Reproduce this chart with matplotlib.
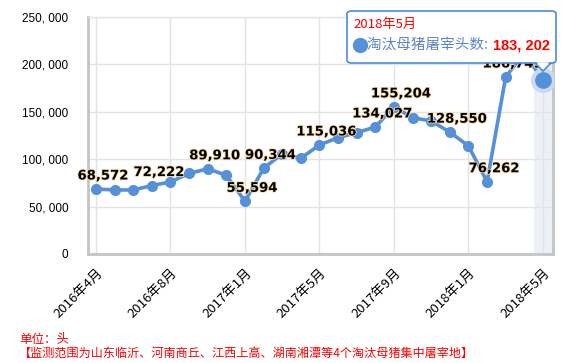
import matplotlib
matplotlib.use("Agg")
import matplotlib.pyplot as plt
import matplotlib.patheffects as pe
from matplotlib.patches import FancyBboxPatch, Polygon
from matplotlib.lines import Line2D

plt.rcParams['font.family'] = ['Noto Sans CJK SC', 'DejaVu Sans']

# ---- data ----
months = ["2016年4月", "2016年5月", "2016年6月", "2016年7月", "2016年8月", "2016年9月",
          "2016年10月", "2016年11月", "2017年1月", "2017年2月", "2017年3月", "2017年4月",
          "2017年5月", "2017年6月", "2017年7月", "2017年8月", "2017年9月", "2017年10月",
          "2017年11月", "2017年12月", "2018年1月", "2018年2月", "2018年3月", "2018年4月",
          "2018年5月"]
values = [68572, 67600, 67500, 72222, 76000, 85000, 89910, 83000, 55594, 90344,
          105800, 101000, 115036, 122700, 128000, 134027, 155204, 143800, 140300,
          128550, 114000, 76262, 186749, 212000, 183202]
labeled_idx = [0, 3, 6, 8, 9, 12, 15, 16, 19, 21, 22]
series_name = "淘汰母猪屠宰头数"
y_ticks = [0, 50000, 100000, 150000, 200000, 250000]
tick_every = 4
hover_idx = 24

W, H = 571, 363
fig = plt.figure(figsize=(W / 100, H / 100), dpi=100)
L, R, T, B = 88, 553, 17, 254
ax = fig.add_axes([L / W, 1 - B / H, (R - L) / W, (B - T) / H])

line_color = '#5590d8'
x = list(range(len(values)))

# highlight band for hovered category
ax.axvspan(hover_idx - 0.47, hover_idx + 0.6, color='#eef0f8', zorder=0, lw=0)

ax.plot(x, values, color=line_color, lw=2.6, marker='o', ms=7, zorder=3,
        solid_capstyle='round')
# hovered point with halo
ax.plot([hover_idx], [values[hover_idx]], marker='o', ms=17, color='#c9daf2',
        zorder=4, ls='none')
ax.plot([hover_idx], [values[hover_idx]], marker='o', ms=11, color=line_color,
        zorder=5, ls='none')

for i in labeled_idx:
    ax.annotate(f"{values[i]:,}", (i, values[i]), xytext=(7, 13),
                textcoords='offset pixels', ha='center', va='center',
                fontsize=9.5, fontweight='bold', color='black',
                family=['DejaVu Sans'], zorder=6,
                path_effects=[pe.withStroke(linewidth=1.2, foreground='#f6d9a6')])

ax.set_xlim(-0.43, 24.54)
ax.set_ylim(0, 250000)
ax.set_yticks(y_ticks)
ax.set_yticklabels([f"{v:,}".replace(",", ", ") for v in y_ticks],
                   fontsize=8.5, family=['Liberation Sans'])
xt = list(range(0, len(values), tick_every))
ax.set_xticks(xt)
ax.set_xticklabels([months[i] for i in xt], rotation=45, ha='right',
                   rotation_mode='anchor', fontsize=9.5)
ax.tick_params(axis='both', length=0)
ax.tick_params(axis='y', pad=14)
ax.tick_params(axis='x', pad=9)

ax.grid(True, color='#e3e3e3', lw=1, zorder=1)
ax.set_axisbelow(True)
for s in ['left', 'bottom', 'right']:
    ax.spines[s].set_color('#c4c4c4')
    ax.spines[s].set_linewidth(2)
ax.spines['top'].set_color('#e4e4e4')
ax.spines['top'].set_linewidth(1)

# tooltip
def fx(px):
    return px / W

def fy(py):
    return 1 - py / H

tip_color = '#4a8be0'
box = FancyBboxPatch((fx(347), fy(63)), fx(556) - fx(347), fy(11) - fy(63),
                     boxstyle='round,pad=0,rounding_size=0.008',
                     transform=fig.transFigure, facecolor='white',
                     edgecolor=tip_color, lw=1.2, zorder=10)
fig.add_artist(box)
tri = Polygon([(fx(535), fy(63)), (fx(551), fy(63)), (fx(543), fy(71))],
              closed=True, transform=fig.transFigure, facecolor='white',
              edgecolor=tip_color, lw=1.2, zorder=10)
fig.add_artist(tri)
cover = Polygon([(fx(536.5), fy(62.2)), (fx(549.5), fy(62.2)), (fx(543), fy(69))],
                closed=True, transform=fig.transFigure, facecolor='white',
                edgecolor='none', zorder=11)
fig.add_artist(cover)

fig.text(fx(353), fy(24), months[hover_idx], color='#ff0000', fontsize=9.5,
         va='center', ha='left', zorder=12)
fig.add_artist(Line2D([fx(359.5)], [fy(45)], marker='o', ms=10, color=line_color,
                      transform=fig.transFigure, zorder=12))
t1 = fig.text(fx(367), fy(45), series_name + ": ", color='#5d86c6', fontsize=10.5,
              va='center', ha='left', zorder=12)
fig.canvas.draw()
bb = t1.get_window_extent(fig.canvas.get_renderer())
fig.text(bb.x1 / W + 0.003, fy(45), f"{values[hover_idx]:,}".replace(",", ", "),
         color='#ff0000', fontsize=10.5, fontweight='bold', va='center', ha='left',
         family=['Liberation Sans'], zorder=12)

# footnotes
fig.text(fx(19), fy(339), "单位：头", color='#ff0000', fontsize=9, va='center', ha='left')
fig.text(fx(19), fy(353), "【监测范围为山东临沂、河南商丘、江西上高、湖南湘潭等4个淘汰母猪集中屠宰地】",
         color='#ff0000', fontsize=8.7, va='center', ha='left')

fig.savefig("out.png", dpi=100)
